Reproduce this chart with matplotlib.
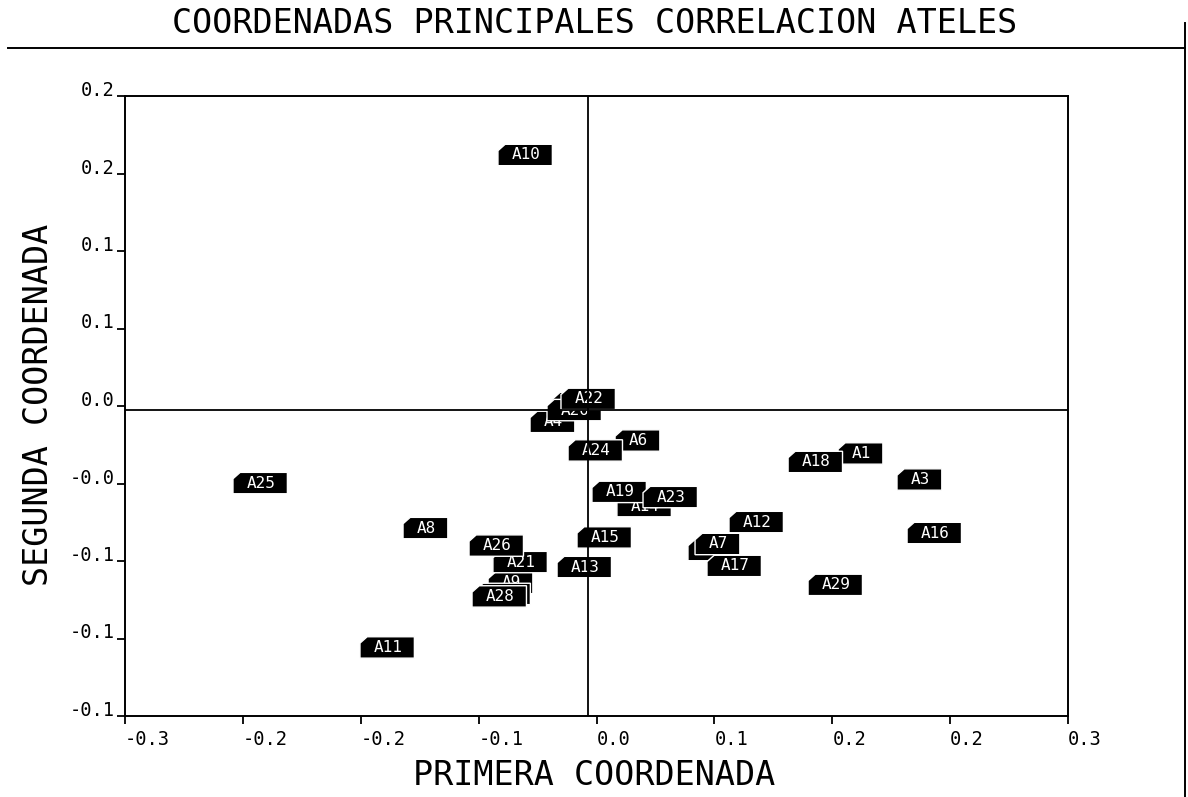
import numpy as np
import matplotlib.pyplot as plt
from matplotlib.path import Path
from matplotlib.lines import Line2D

plt.rcParams['font.family'] = ['DejaVu Sans Mono']

# principal coordinates of the Ateles correlation matrix (box anchor = left edge)
names = ['A1', 'A2', 'A3', 'A4', 'A5', 'A6', 'A7', 'A8', 'A9', 'A10',
         'A11', 'A12', 'A13', 'A14', 'A15', 'A16', 'A17', 'A18', 'A19', 'A20',
         'A21', 'A22', 'A23', 'A24', 'A25', 'A26', 'A27', 'A28', 'A29']
first = [0.1537, 0.0582, 0.1912, -0.0423, -0.0277, 0.0118, 0.0627, -0.1231, -0.0690, -0.0627,
         -0.1505, 0.0843, -0.0251, 0.0130, -0.0124, 0.1976, 0.0703, 0.1219, -0.0029, -0.0315,
         -0.0659, -0.0226, 0.0296, -0.0181, -0.2313, -0.0811, -0.0767, -0.0792, 0.1346]
second = [-0.0018, -0.0563, -0.0165, 0.0160, 0.0267, 0.0055, -0.0529, -0.0439, -0.0749, 0.1667,
          -0.1113, -0.0405, -0.0659, -0.0315, -0.0492, -0.0467, -0.0653, -0.0066, -0.0235, 0.0227,
          -0.0631, 0.0290, -0.0264, -0.0001, -0.0185, -0.0538, -0.0811, -0.0825, -0.0760]

xtick_labels = ['-0.3', '-0.2', '-0.2', '-0.1', '0.0', '0.1', '0.2', '0.2', '0.3']
ytick_labels = ['-0.1', '-0.1', '-0.1', '-0.0', '0.0', '0.1', '0.1', '0.2', '0.2']
x_origin = -0.0054
y_origin = 0.0227

TAG_SIZE = 11.5


def tag_box(x0, y0, width, height, mutation_size):
    # black label tag with the top-left corner clipped
    m = mutation_size
    left = x0 - 0.85 * m
    right = x0 + width + 0.75 * m
    bottom = y0 - 0.2 * m
    top = y0 + height + 0.2 * m
    cx, cy = 0.45 * m, 0.4 * m
    verts = [(left, bottom), (right, bottom), (right, top),
             (left + cx, top), (left, top - cy), (left, bottom)]
    return Path(verts, closed=True)


fig = plt.figure(figsize=(11.88, 7.97), dpi=100)
ax = fig.add_axes([125 / 1188, 81 / 797, 943 / 1188, 620 / 797])
ax.set_xlim(-0.3, 0.3)
ax.set_ylim(-0.15, 0.2)

for spine in ax.spines.values():
    spine.set_linewidth(1.4)

ax.axvline(x_origin, color='black', lw=1.3, zorder=5)
ax.axhline(y_origin, color='black', lw=1.3, zorder=5)

for name, x, y in zip(names, first, second):
    ax.annotate(name, (x, y), xytext=(0.85 * TAG_SIZE, 0), textcoords='offset points',
                ha='left', va='center', fontsize=TAG_SIZE, color='white', zorder=2,
                bbox=dict(boxstyle=tag_box, fc='black', ec='white', lw=1))

ax.set_xticks(np.linspace(-0.3, 0.3, 9))
ax.set_xticklabels(xtick_labels, ha='left', fontsize=13.5)
ax.set_yticks(np.linspace(-0.15, 0.2, 9))
ax.set_yticklabels(ytick_labels, va='baseline', fontsize=13.5)
ax.tick_params(axis='x', direction='out', length=6, width=1.3, pad=4)
ax.tick_params(axis='y', direction='out', length=6, width=1.3, pad=1.5)

ax.set_xlabel('PRIMERA COORDENADA', fontsize=24, va='baseline')
ax.xaxis.set_label_coords((594 - 125) / 943, (716 - 785) / 620)
ax.set_ylabel('SEGUNDA COORDENADA', fontsize=24, va='center')
ax.yaxis.set_label_coords((38 - 125) / 943, (716 - 405) / 620)

fig.text(594.5 / 1188, 1 - 33 / 797, 'COORDENADAS PRINCIPALES CORRELACION ATELES',
         ha='center', va='baseline', fontsize=24)

# page frame: rule under the title and the right-hand border
fig.add_artist(Line2D([8 / 1188, 1185 / 1188], [1 - 48 / 797, 1 - 48 / 797],
                      color='black', lw=1.4))
fig.add_artist(Line2D([1185 / 1188, 1185 / 1188], [1 - 23 / 797, 0],
                      color='black', lw=1.4))

fig.savefig('out.png', dpi=100)
